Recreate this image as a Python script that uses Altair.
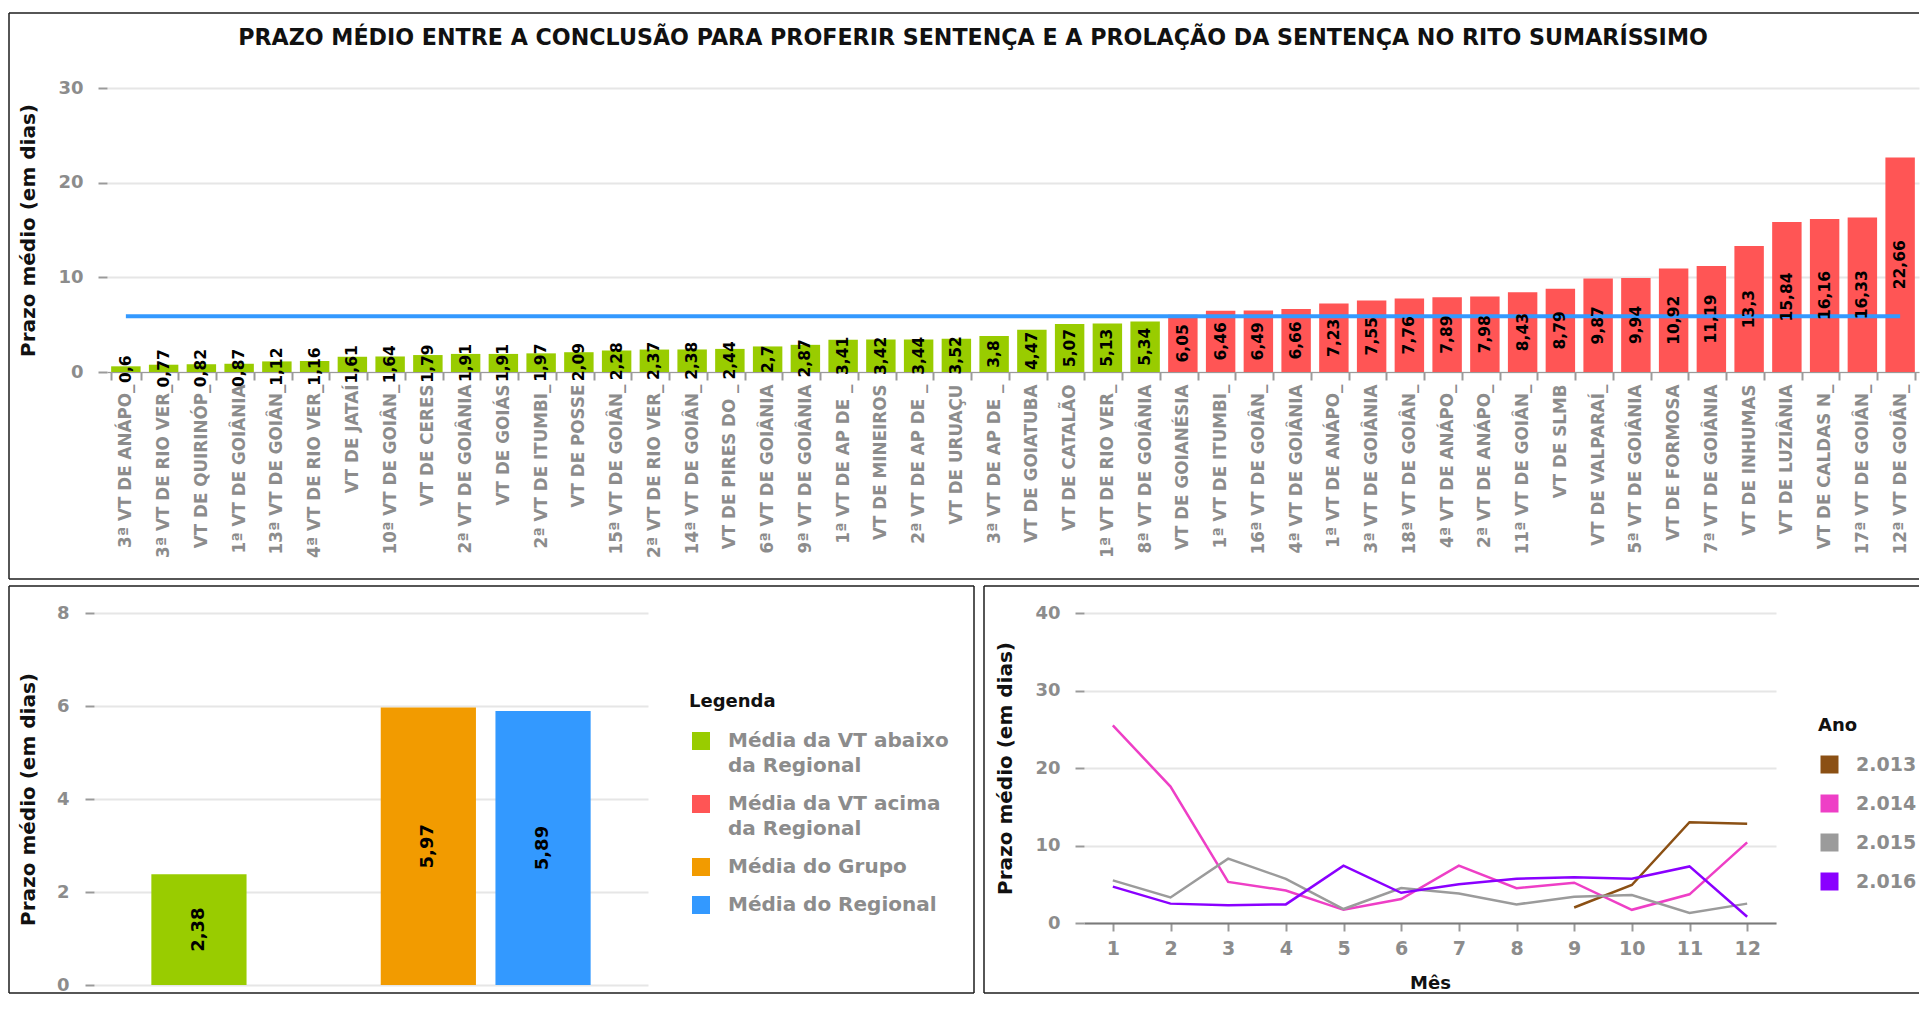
import altair as alt
import pandas as pd

# ---------------- data ----------------
TITULO = "PRAZO MÉDIO ENTRE A CONCLUSÃO PARA PROFERIR SENTENÇA E A PROLAÇÃO DA SENTENÇA NO RITO SUMARÍSSIMO"
EIXO_Y = "Prazo médio (em dias)"

varas = [
    "3ª VT DE ANÁPO_", "3ª VT DE RIO VER_", "VT DE QUIRINÓP_", "1ª VT DE GOIÂNIA",
    "13ª VT DE GOIÂN_", "4ª VT DE RIO VER_", "VT DE JATAÍ", "10ª VT DE GOIÂN_",
    "VT DE CERES", "2ª VT DE GOIÂNIA", "VT DE GOIÁS", "2ª VT DE ITUMBI_",
    "VT DE POSSE", "15ª VT DE GOIÂN_", "2ª VT DE RIO VER_", "14ª VT DE GOIÂN_",
    "VT DE PIRES DO _", "6ª VT DE GOIÂNIA", "9ª VT DE GOIÂNIA", "1ª VT DE AP DE _",
    "VT DE MINEIROS", "2ª VT DE AP DE _", "VT DE URUAÇU", "3ª VT DE AP DE _",
    "VT DE GOIATUBA", "VT DE CATALÃO", "1ª VT DE RIO VER_", "8ª VT DE GOIÂNIA",
    "VT DE GOIANÉSIA", "1ª VT DE ITUMBI_", "16ª VT DE GOIÂN_", "4ª VT DE GOIÂNIA",
    "1ª VT DE ANÁPO_", "3ª VT DE GOIÂNIA", "18ª VT DE GOIÂN_", "4ª VT DE ANÁPO_",
    "2ª VT DE ANÁPO_", "11ª VT DE GOIÂN_", "VT DE SLMB", "VT DE VALPARAÍ_",
    "5ª VT DE GOIÂNIA", "VT DE FORMOSA", "7ª VT DE GOIÂNIA", "VT DE INHUMAS",
    "VT DE LUZIÂNIA", "VT DE CALDAS N_", "17ª VT DE GOIÂN_", "12ª VT DE GOIÂN_",
]
prazos = [
    0.6, 0.77, 0.82, 0.87, 1.12, 1.16, 1.61, 1.64, 1.79, 1.91, 1.91, 1.97,
    2.09, 2.28, 2.37, 2.38, 2.44, 2.7, 2.87, 3.41, 3.42, 3.44, 3.52, 3.8,
    4.47, 5.07, 5.13, 5.34, 6.05, 6.46, 6.49, 6.66, 7.23, 7.55, 7.76, 7.89,
    7.98, 8.43, 8.79, 9.87, 9.94, 10.92, 11.19, 13.3, 15.84, 16.16, 16.33, 22.66,
]
media_regional = 5.89

resumo_categorias = [
    "Média da VT abaixo da Regional",
    "Média da VT acima da Regional",
    "Média do Grupo",
    "Média do Regional",
]
resumo_valores = [2.38, None, 5.97, 5.89]
resumo_cores = ["#99cc00", "#ff5555", "#f29b00", "#3399ff"]

meses = list(range(1, 13))
anos = ["2.013", "2.014", "2.015", "2.016"]
serie_2013 = [None, None, None, None, None, None, None, None, 2.0, 4.9, 13.0, 12.8]
serie_2014 = [25.5, 17.6, 5.3, 4.2, 1.7, 3.1, 7.4, 4.5, 5.2, 1.7, 3.7, 10.4]
serie_2015 = [5.5, 3.3, 8.3, 5.7, 1.8, 4.5, 3.8, 2.4, 3.4, 3.6, 1.3, 2.5]
serie_2016 = [4.7, 2.5, 2.3, 2.4, 7.4, 3.9, 5.0, 5.7, 5.9, 5.7, 7.3, 0.8]
cores_anos = ["#8b5014", "#ee3fc6", "#9b9b9b", "#8a00ff"]

# ---------------- style ----------------
FONT = "DejaVu Sans"
CINZA = "#8c8c8c"
GRADE = "#e6e6e6"
TRACO = "#9a9a9a"
BORDA = "#1e1e1e"


def num_br(v):
    return f"{v:g}".replace(".", ",")


def moldura(left, top, right, bottom, direita=False):
    base = alt.Chart(pd.DataFrame({"m": [0]}))
    kw = dict(color=BORDA, strokeWidth=1.5)
    camadas = [
        base.mark_rule(**kw).encode(x=alt.value(left), x2=alt.value(right), y=alt.value(top)),
        base.mark_rule(**kw).encode(x=alt.value(left), x2=alt.value(right), y=alt.value(bottom)),
        base.mark_rule(**kw).encode(x=alt.value(left), y=alt.value(top), y2=alt.value(bottom)),
    ]
    if direita:
        camadas.append(
            base.mark_rule(**kw).encode(x=alt.value(right), y=alt.value(top), y2=alt.value(bottom))
        )
    return camadas


# ---------------- top chart (plot origin at page x=106, y=87) ----------------
TW, TH = 1812, 284
df_top = pd.DataFrame({"vara": varas, "prazo": prazos})
df_top["regional"] = media_regional
df_top["grupo"] = [resumo_categorias[0] if p < media_regional else resumo_categorias[1] for p in prazos]
df_top["rotulo"] = [num_br(p) for p in prazos]

eixo_x_top = alt.Axis(
    title=None, labelAngle=270, labelAlign="right", labelBaseline="middle",
    labelFontSize=16.8, labelPadding=4, tickBand="extent", tickSize=8,
    labelLimit=400, labelOverlap=False, domain=True, domainColor=TRACO, domainWidth=1,
)
eixo_y_top = alt.Axis(
    values=[0, 10, 20, 30], title=EIXO_Y, titleX=-79, titleY=TH / 2, titleAngle=270,
    titleAlign="center", titleBaseline="middle", labelPadding=15,
)
X_top = alt.X("vara:N", sort=None, scale=alt.Scale(paddingInner=0.22, paddingOuter=0.11), axis=eixo_x_top)


def Y_top(campo):
    return alt.Y(campo, scale=alt.Scale(domain=[0, 30], nice=False), axis=eixo_y_top)


barras_top = alt.Chart(df_top).mark_bar().encode(
    x=X_top, y=Y_top("prazo:Q"),
    color=alt.Color("grupo:N", scale=alt.Scale(domain=resumo_categorias, range=resumo_cores), legend=None),
)
linha_top = alt.Chart(df_top).mark_line(color="#3399ff", strokeWidth=4).encode(
    x=X_top, y=Y_top("regional:Q")
)
rotulos_top = alt.Chart(df_top).transform_calculate(meio="datum.prazo / 2").mark_text(
    angle=270, font=FONT, fontSize=15.5, fontWeight="bold", color="#000",
    align="center", baseline="middle",
).encode(x=X_top, y=Y_top("meio:Q"), text="rotulo:N")
titulo_top = alt.Chart(pd.DataFrame({"t": [TITULO]})).mark_text(
    font=FONT, fontSize=22.2, fontWeight="bold", color="#111", align="center", baseline="middle"
).encode(x=alt.value(866), y=alt.value(-50), text="t:N")

topo = alt.layer(
    *moldura(-98, -75, TW, 491), barras_top, linha_top, rotulos_top, titulo_top
).properties(width=TW, height=TH)

# ---------------- bottom-left chart (group origin at page x=106, y=612) ----------------
BW, BH = 541, 372
BORDA_INF = 380
df_res = pd.DataFrame({"categoria": resumo_categorias, "valor": resumo_valores}).dropna()
df_res["rotulo"] = [num_br(v) for v in df_res["valor"]]

X_bl = alt.X(
    "categoria:N", sort=resumo_categorias,
    scale=alt.Scale(domain=resumo_categorias, range=[-13, 541], paddingInner=0.17, paddingOuter=0.5),
    axis=None,
)
eixo_y_bl = alt.Axis(
    values=[0, 2, 4, 6, 8], title=EIXO_Y, titleX=-65.5, titleY=BH / 2, titleAngle=270,
    titleAlign="center", titleBaseline="middle", labelPadding=16, offset=13,
)


def Y_bl(campo):
    return alt.Y(campo, scale=alt.Scale(domain=[0, 8], nice=False), axis=eixo_y_bl)


leg_bl = alt.Legend(
    title="Legenda", orient="none", legendX=582, legendY=80, padding=0,
    symbolType="square", symbolSize=324, symbolStrokeWidth=0, symbolOffset=2,
    labelOffset=17, labelFont=FONT, labelFontSize=20, labelFontWeight="bold",
    labelColor=CINZA, labelLimit=400, titleFont=FONT, titleFontSize=18,
    titleFontWeight="bold", titleColor="#111", titlePadding=20, rowPadding=18,
    labelExpr="indexof(datum.label, ' da Regional') > 0 ? "
              "[substring(datum.label, 0, indexof(datum.label, ' da Regional')), 'da Regional'] "
              ": datum.label",
)
barras_bl = alt.Chart(df_res).mark_bar().encode(
    x=X_bl, y=Y_bl("valor:Q"),
    color=alt.Color("categoria:N", scale=alt.Scale(domain=resumo_categorias, range=resumo_cores), legend=leg_bl),
)
rotulos_bl = alt.Chart(df_res).transform_calculate(meio="datum.valor / 2").mark_text(
    angle=270, font=FONT, fontSize=18, fontWeight="bold", color="#000",
    align="center", baseline="middle",
).encode(x=X_bl, y=Y_bl("meio:Q"), text="rotulo:N")

esq = alt.layer(
    *moldura(-98, -27, 867, BORDA_INF, direita=True), barras_bl, rotulos_bl
).properties(width=BW, height=BH)

# ---------------- bottom-right chart (plot origin at page x=1083, y=612) ----------------
RW, RH = 692, 310
linhas = []
for ano, serie in zip(anos, [serie_2013, serie_2014, serie_2015, serie_2016]):
    for m, v in zip(meses, serie):
        if v is not None:
            linhas.append({"ano": ano, "mes": m, "prazo": v})
df_lin = pd.DataFrame(linhas)

X_br = alt.X(
    "mes:O",
    axis=alt.Axis(
        title="Mês", labelAngle=0, labelFontSize=19, tickSize=8, labelPadding=8,
        titlePadding=16, titleFontSize=18, domain=True, domainColor="#7a7a7a",
        domainWidth=2, grid=False,
    ),
)
Y_br = alt.Y(
    "prazo:Q", scale=alt.Scale(domain=[0, 40], nice=False),
    axis=alt.Axis(
        values=[0, 10, 20, 30, 40], title=EIXO_Y, titleX=-79, titleY=RH / 2,
        titleAngle=270, titleAlign="center", titleBaseline="middle", labelPadding=15,
    ),
)
esc_anos = alt.Scale(domain=anos, range=cores_anos)
leg_br = alt.Legend(
    title="Ano", orient="none", legendX=734, legendY=104, padding=0,
    symbolType="square", symbolSize=324, symbolStrokeWidth=0, symbolOffset=2,
    symbolOpacity=1, labelOffset=17, labelFont=FONT, labelFontSize=19,
    labelFontWeight="bold", labelColor=CINZA, titleFont=FONT, titleFontSize=18,
    titleFontWeight="bold", titleColor="#111", titlePadding=20, rowPadding=19,
)
linhas_br = alt.Chart(df_lin).mark_line(strokeWidth=2.5).encode(
    x=X_br, y=Y_br, stroke=alt.Stroke("ano:N", scale=esc_anos, legend=leg_br),
)
chave_br = alt.Chart(df_lin).mark_square(size=0, opacity=0).encode(
    x=X_br, y=Y_br, fill=alt.Fill("ano:N", scale=esc_anos, legend=leg_br),
)

dir_ = alt.layer(*moldura(-100, -27, 835, BORDA_INF), linhas_br, chave_br).properties(width=RW, height=RH)

# ---------------- assemble (flush layout: plot areas placed exactly) ----------------
inferior = (
    alt.hconcat(esq, dir_, spacing=436, bounds="flush")
    .resolve_scale(color="independent", fill="independent", stroke="independent")
    .resolve_legend(color="independent", fill="independent", stroke="independent")
)
chart = (
    alt.vconcat(topo, inferior, spacing=241, bounds="flush")
    .resolve_scale(color="independent", fill="independent", stroke="independent")
    .resolve_legend(color="independent", fill="independent", stroke="independent")
    .properties(padding={"left": 0, "top": 4, "right": 0, "bottom": 0})
    .configure(style={"guide-label": {"lineHeight": 25}})
    .configure_view(stroke=None)
    .configure_axis(
        labelFont=FONT, titleFont=FONT, labelFontWeight="bold", titleFontWeight="bold",
        labelColor=CINZA, titleColor="#111", titleFontSize=20, labelFontSize=18,
        gridColor=GRADE, gridWidth=2, tickColor=TRACO, tickWidth=2, tickSize=9,
    )
    .configure_axisY(domain=False, grid=True)
    .configure_axisX(grid=False)
)

chart.save("out.html", embed_options={"renderer": "svg", "actions": False})
